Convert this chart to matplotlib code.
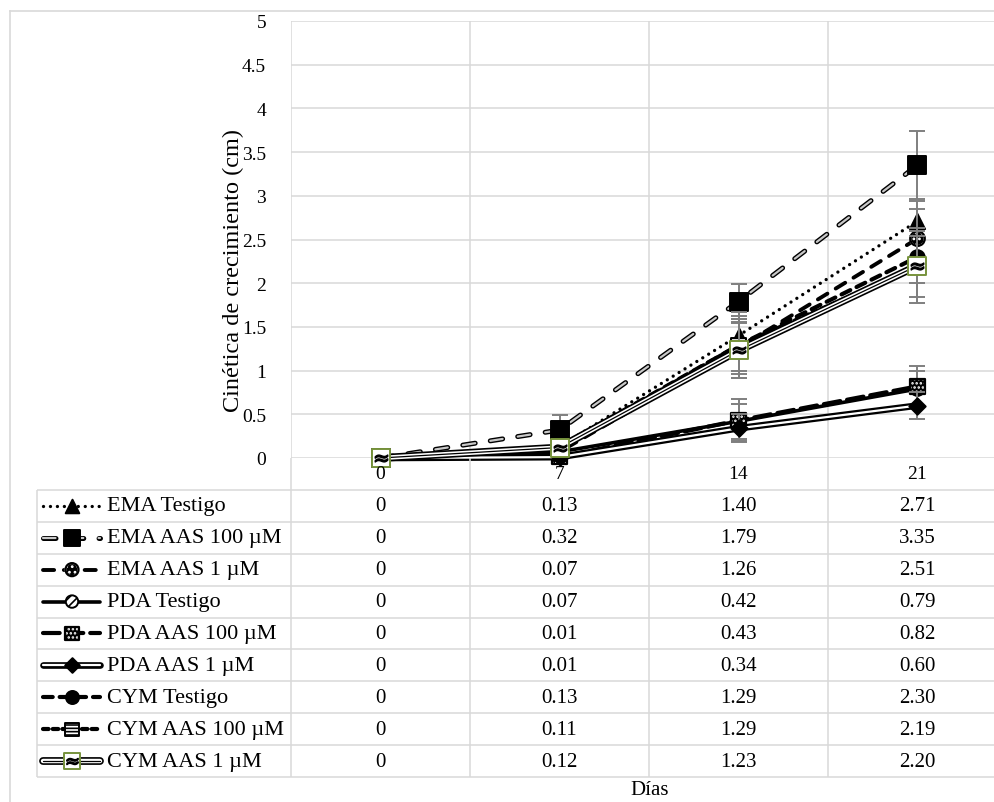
import numpy as np
import matplotlib
matplotlib.use("Agg")
import matplotlib.pyplot as plt
import matplotlib.patheffects as pe
from matplotlib.lines import Line2D

plt.rcParams["font.family"] = ["Liberation Serif", "DejaVu Serif"]
plt.rcParams["lines.scale_dashes"] = False
plt.rcParams["mathtext.fontset"] = "dejavuserif"

days = ["0", "7", "14", "21"]
series_names = ["EMA Testigo", "EMA AAS 100 µM", "EMA AAS 1 µM",
                "PDA Testigo", "PDA AAS 100 µM", "PDA AAS 1 µM",
                "CYM Testigo", "CYM AAS 100 µM", "CYM AAS 1 µM"]

ema_testigo = [0, 0.13, 1.40, 2.71]
ema_aas100 = [0, 0.32, 1.79, 3.35]
ema_aas1 = [0, 0.07, 1.26, 2.51]
pda_testigo = [0, 0.07, 0.42, 0.79]
pda_aas100 = [0, 0.01, 0.43, 0.82]
pda_aas1 = [0, 0.01, 0.34, 0.60]
cym_testigo = [0, 0.13, 1.29, 2.30]
cym_aas100 = [0, 0.11, 1.29, 2.19]
cym_aas1 = [0, 0.12, 1.23, 2.20]

# error bars
err_ema_testigo = [0, 0.05, 0.22, 0.23]
err_ema_aas100 = [0, 0.17, 0.20, 0.39]
err_ema_aas1 = [0, 0.04, 0.30, 0.34]
err_pda_testigo = [0, 0.03, 0.20, 0.20]
err_pda_aas100 = [0, 0.01, 0.24, 0.23]
err_pda_aas1 = [0, 0.01, 0.16, 0.15]
err_cym_testigo = [0, 0.05, 0.30, 0.30]
err_cym_aas100 = [0, 0.05, 0.38, 0.35]
err_cym_aas1 = [0, 0.05, 0.32, 0.43]

values = [ema_testigo, ema_aas100, ema_aas1, pda_testigo, pda_aas100,
          pda_aas1, cym_testigo, cym_aas100, cym_aas1]
errors = [err_ema_testigo, err_ema_aas100, err_ema_aas1, err_pda_testigo,
          err_pda_aas100, err_pda_aas1, err_cym_testigo, err_cym_aas100,
          err_cym_aas1]

# ---- styles ----
K = "black"
GRID = "#d9d9d9"
OLIVE = "#77933c"
styles = [
    dict(color=K, lw=2.4, ls=(0, (0.01, 5.0)), fx=None,
         m="^", s=120, face=K, edge=K, hatch=None, hc=K),
    dict(color="#c8c8c8", lw=1.6, ls=(0, (9, 11)),
         fx=[pe.Stroke(linewidth=3.6, foreground=K), pe.Normal()],
         m="s", s=150, face=K, edge=K, hatch=None, hc=K),
    dict(color=K, lw=2.8, ls=(0, (8, 7)), fx=None,
         m="o", s=110, face=K, edge=K, hatch="...", hc="white"),
    dict(color=K, lw=2.6, ls="-", fx=None,
         m="o", s=100, face="white", edge=K, hatch="////", hc=K),
    dict(color=K, lw=3.0, ls=(0, (12, 5)), fx=None,
         m="s", s=110, face=K, edge=K, hatch="....", hc="white"),
    dict(color="white", lw=1.6, ls="-",
         fx=[pe.Stroke(linewidth=4.8, foreground=K), pe.Normal()],
         m="D", s=70, face=K, edge=K, hatch=None, hc=K),
    dict(color=K, lw=3.0, ls=(0, (7, 5)), fx=None,
         m="o", s=110, face=K, edge=K, hatch=None, hc=K),
    dict(color=K, lw=3.0, ls=(0, (4, 3)), fx=None,
         m="s", s=110, face="white", edge=K, hatch="-----", hc=K),
    dict(color=K, lw=0.9, ls="-",
         fx=[pe.Stroke(linewidth=5.6, foreground=K),
             pe.Stroke(linewidth=3.2, foreground="white"), pe.Normal()],
         m="s", s=165, face="white", edge=OLIVE, hatch=None, hc=K,
         over="$\\approx$"),
]


def draw_line(a, xs, ys, st, z, clip=True):
    a.plot(xs, ys, color=st["color"], lw=st["lw"], ls=st["ls"],
           dash_capstyle="round", solid_capstyle="round",
           path_effects=st["fx"], zorder=z, clip_on=clip)


def draw_marker(a, xs, ys, st, z, clip=True, scale=1.0):
    white_hatch = st["hatch"] is not None and st["hc"] == "white"
    edge = "white" if white_hatch else st["edge"]
    with plt.rc_context({"hatch.color": st["hc"], "hatch.linewidth": 1.2}):
        a.scatter(xs, ys, s=st["s"] * scale, marker=st["m"],
                  facecolor=st["face"], edgecolor=edge,
                  hatch=st["hatch"], linewidths=1.4, zorder=z, clip_on=clip)
    if white_hatch:
        a.scatter(xs, ys, s=st["s"] * scale, marker=st["m"],
                  facecolor="none", edgecolor=K, linewidths=1.6,
                  zorder=z + 0.01, clip_on=clip)
    if st.get("over"):
        a.plot(xs, ys, ls="none", marker=st["over"], color=K,
               ms=9 * np.sqrt(scale), zorder=z + 0.02, clip_on=clip)


# ---- layout (pixels of the 994x803 picture) ----
W, H = 994, 803
fig = plt.figure(figsize=(W / 100, H / 100), dpi=100)


def fxp(px):
    return px / W


def fyp(py):
    return 1 - py / H


left, right, top, axis0, bottom = 291, 1007, 22, 459, 778
unit = (right - left) / 4.0

ax = fig.add_axes([fxp(left), fyp(axis0), fxp(right) - fxp(left),
                   fyp(top) - fyp(axis0)])
axt = fig.add_axes([fxp(left), fyp(bottom), fxp(right) - fxp(left),
                    fyp(axis0) - fyp(bottom)])

x = np.arange(len(days))
ax.set_xlim(-0.5, 3.5)
ax.set_ylim(0, 5)
yt = np.arange(0, 5.01, 0.5)
ax.set_yticks(yt)
ax.set_yticklabels([f"{v:g}" for v in yt])
ax.set_xticks([])
ax.set_xticks(np.arange(-0.5, 3.6, 1), minor=True)
ax.tick_params(axis="both", which="both", length=0, labelsize=14, pad=18)
ax.grid(axis="y", color=GRID, lw=1.1)
ax.grid(axis="x", which="minor", color=GRID, lw=1.1)
for sp in ax.spines.values():
    sp.set_visible(False)
ax.set_axisbelow(True)

for i, (vals, errs, st) in enumerate(zip(values, errors, styles)):
    z = 3 + i
    ax.errorbar(x, vals, yerr=errs, fmt="none", ecolor="#7f7f7f",
                elinewidth=1.4, capsize=6, capthick=1.4, zorder=z)
    draw_line(ax, x, vals, st, z + 0.1, clip=False)
    draw_marker(ax, x, vals, st, z + 0.2, clip=False)

# ---- data table ----
nrows = len(series_names) + 1
axt.set_xlim(-0.5, 3.5)
axt.set_ylim(nrows, 0)
axt.axis("off")
x_left = -0.5 - (left - 37) / unit
key_a = -0.5 - (left - 43) / unit
key_b = -0.5 - (left - 100) / unit
key_c = -0.5 - (left - 72) / unit
x_txt = -0.5 - (left - 107) / unit

axt.vlines(np.arange(-0.5, 3.6, 1), 0, nrows, color=GRID, lw=1.1,
           clip_on=False)
axt.vlines([x_left], 1, nrows, color=GRID, lw=1.1, clip_on=False)
axt.hlines(np.arange(1, nrows + 1), x_left, 3.5, color=GRID, lw=1.1,
           clip_on=False)

for i, d in enumerate(days):
    axt.text(i, 0.5, d, ha="center", va="center", fontsize=14)

for r, (name, vals, st) in enumerate(zip(series_names, values, styles)):
    yc = r + 1.5
    draw_line(axt, [key_a, key_b], [yc, yc], st, 5, clip=False)
    draw_marker(axt, [key_c], [yc], st, 6, clip=False, scale=0.8)
    axt.text(x_txt, yc, name, ha="left", va="center", fontsize=16)
    for i, v in enumerate(vals):
        lab = "0" if v == 0 else f"{v:.2f}"
        axt.text(i, yc, lab, ha="center", va="center", fontsize=15)

# ---- titles and outer border ----
fig.text(fxp(233), fyp(270), "Cinética de crecimiento (cm)", rotation=90,
         ha="center", va="center", fontsize=17.5)
fig.text(fxp(650), fyp(791), "Días", ha="center", va="center", fontsize=15)
fig.add_artist(Line2D([fxp(10), fxp(10)], [0, fyp(12)], color=GRID, lw=1.2))
fig.add_artist(Line2D([fxp(10), 1], [fyp(12), fyp(12)], color=GRID, lw=1.2))

plt.savefig("out.png", dpi=100)
